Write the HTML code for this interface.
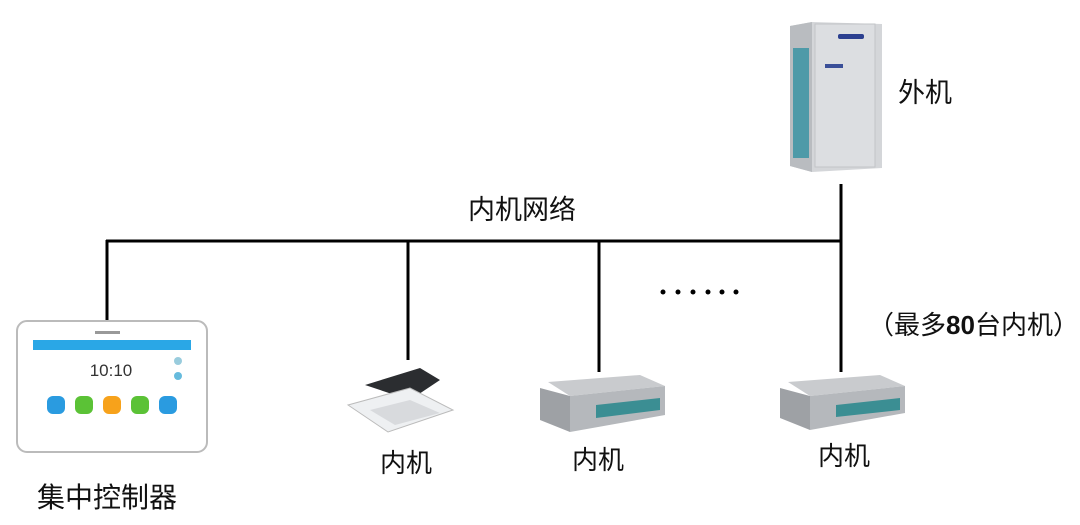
<!DOCTYPE html>
<html><head><meta charset="utf-8"><style>
body{margin:0;width:1080px;height:525px;background:#fff;position:relative;overflow:hidden;font-family:"Liberation Sans","Noto Sans CJK SC",sans-serif;}
.t{position:absolute;font-size:26px;color:#111;white-space:nowrap;line-height:1;}
</style></head><body>
<svg width="1080" height="525" style="position:absolute;left:0;top:0">
<g stroke="#000" stroke-width="3" fill="none">
<line x1="106" y1="241" x2="842" y2="241"/>
<line x1="107" y1="240" x2="107" y2="320"/>
<line x1="408" y1="240" x2="408" y2="360"/>
<line x1="599" y1="240" x2="599" y2="372"/>
<line x1="841" y1="184" x2="841" y2="372"/>
</g>
<g fill="#000"><circle cx="663" cy="292" r="2.5"/><circle cx="678" cy="292" r="2.5"/><circle cx="693" cy="292" r="2.5"/><circle cx="708" cy="292" r="2.5"/><circle cx="722" cy="292" r="2.5"/><circle cx="736" cy="292" r="2.5"/></g>
<rect x="17" y="321" width="190" height="131" rx="10" fill="#fff" stroke="#bbb" stroke-width="2"/>
<rect x="33" y="340" width="158" height="10" fill="#2aa7e6"/>
<text x="111" y="376" font-size="17" text-anchor="middle" font-family="Liberation Sans" fill="#333">10:10</text>
<rect x="95" y="331" width="25" height="3" fill="#999"/>
<circle cx="178" cy="361" r="4" fill="#9cd"/><circle cx="178" cy="376" r="4" fill="#6bd"/>
<rect x="47" y="396" width="18" height="18" rx="6" fill="#2a9be0"/>
<rect x="75" y="396" width="18" height="18" rx="6" fill="#5bc236"/>
<rect x="103" y="396" width="18" height="18" rx="6" fill="#f7a21b"/>
<rect x="131" y="396" width="18" height="18" rx="6" fill="#5bc236"/>
<rect x="159" y="396" width="18" height="18" rx="6" fill="#2a9be0"/>
<polygon points="790,26 812,22 882,24 882,168 812,172 790,166" fill="#d4d6d9"/>
<polygon points="790,26 812,22 812,172 790,166" fill="#b9bcc0"/>
<rect x="793" y="48" width="16" height="110" fill="#4e9aa8"/>
<rect x="815" y="24" width="60" height="143" fill="#dcdee1" stroke="#c2c4c7"/>
<rect x="838" y="34" width="26" height="5" rx="2" fill="#2b3f8f"/>
<rect x="825" y="64" width="18" height="4" fill="#3a4f98"/>
<polygon points="365,385 420,368 440,380 410,400" fill="#2b2d30"/>
<polygon points="348,405 410,388 453,410 388,432" fill="#eef0f2" stroke="#bbb"/>
<polygon points="370,410 410,400 440,413 395,425" fill="#d8dadd"/>
<polygon points="548,382 640,375 665,386 570,396" fill="#c9cbce"/>
<polygon points="540,388 570,396 570,432 540,420" fill="#9ea1a5"/>
<polygon points="570,396 665,386 665,415 570,432" fill="#b5b8bc"/>
<polygon points="596,405 660,398 660,410 596,418" fill="#3b8e93"/>
<polygon points="788,382 880,375 905,386 810,396" fill="#c9cbce"/>
<polygon points="780,388 810,396 810,430 780,418" fill="#9ea1a5"/>
<polygon points="810,396 905,386 905,413 810,430" fill="#b5b8bc"/>
<polygon points="836,405 900,398 900,410 836,417" fill="#3b8e93"/>
</svg>
<div class="t" style="left:898px;top:80px;font-size:27px">外机</div>
<div class="t" style="left:468px;top:197px;font-size:27px">内机网络</div>
<div class="t" style="left:868px;top:312px;font-size:26px">（最多<b>80</b>台内机）</div>
<div class="t" style="left:380px;top:450px">内机</div>
<div class="t" style="left:572px;top:447px">内机</div>
<div class="t" style="left:818px;top:443px">内机</div>
<div class="t" style="left:37px;top:484px;font-size:28px">集中控制器</div>
</body></html>
